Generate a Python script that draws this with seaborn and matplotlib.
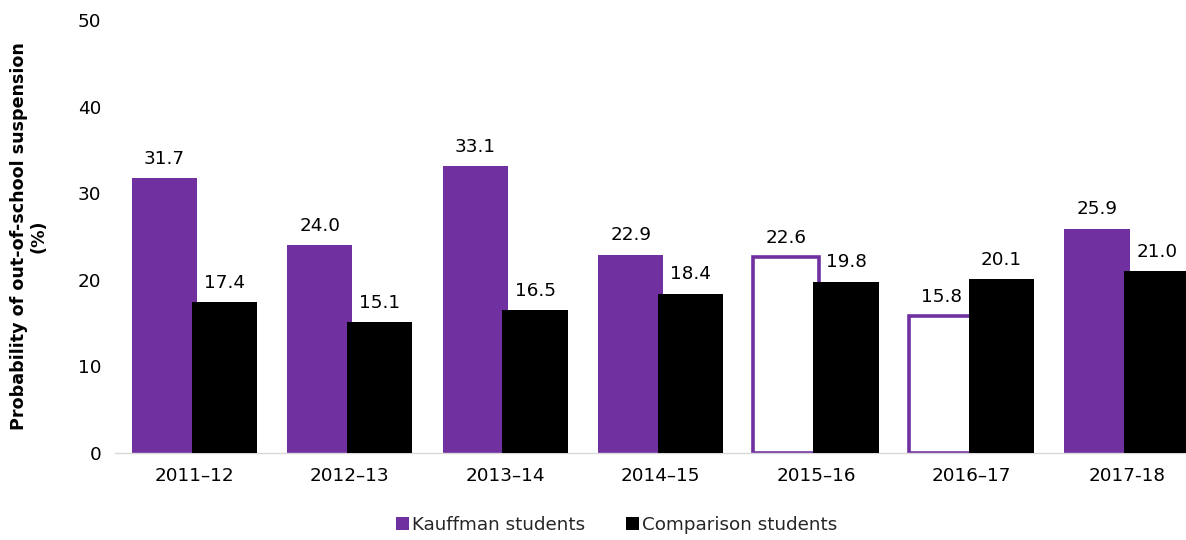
import matplotlib
matplotlib.use("Agg")
import matplotlib.pyplot as plt
import seaborn as sns
import pandas as pd
from matplotlib.patches import Patch

years = ["2011–12", "2012–13", "2013–14", "2014–15", "2015–16", "2016–17", "2017-18"]
kauffman = [31.7, 24.0, 33.1, 22.9, 22.6, 15.8, 25.9]
comparison = [17.4, 15.1, 16.5, 18.4, 19.8, 20.1, 21.0]
hollow_years = ["2015–16", "2016–17"]

groups = ["Kauffman students", "Comparison students"]
purple = "#7030A0"
colors = [purple, "#000000"]

df = pd.DataFrame({
    "year": years * 2,
    "value": kauffman + comparison,
    "group": [groups[0]] * len(years) + [groups[1]] * len(years),
})

sns.set_style("white")
plt.rcParams["font.family"] = ["DejaVu Sans"]
fs = 13.2

fig = plt.figure(figsize=(11.86, 5.4), dpi=100)
ax = fig.add_axes([0.097, 0.161, 0.903, 0.802])

sns.barplot(data=df, x="year", y="value", hue="group", palette=colors,
            hue_order=groups, order=years, ax=ax, width=0.8, legend=False,
            saturation=1, errorbar=None)

# overlap the two bars of a year like the original
bw = 0.42
shift = 0.385
bars = ax.patches[:2 * len(years)]
for i, p in enumerate(bars):
    g = i // len(years)
    k = i % len(years)
    cx = k + (-shift / 2 if g == 0 else shift / 2)
    p.set_x(cx - bw / 2)
    p.set_width(bw)
    p.set_linewidth(0)
    p.set_zorder(2 + g)
    if g == 0 and years[k] in hollow_years:
        p.set_facecolor("white")
        p.set_edgecolor(purple)
        p.set_linewidth(2.6)
        p.set_joinstyle("miter")
    vals = kauffman if g == 0 else comparison
    ax.text(cx, vals[k] + 1.2, f"{vals[k]:.1f}", ha="center", va="bottom",
            fontsize=fs, color="black", zorder=5)

ax.set_ylim(0, 50)
ax.set_yticks(range(0, 51, 10))
ax.set_xlim(-0.51, 6.38)
ax.tick_params(axis="both", labelsize=fs, length=0, pad=10, labelcolor="black")
ax.set_xlabel("")
ax.set_ylabel("Probability of out-of-school suspension\n(%)", fontsize=12.6,
              fontweight="bold", color="black", linespacing=1.1)
ax.yaxis.set_label_coords(-0.063, 0.5)
for s in ["top", "right", "left"]:
    ax.spines[s].set_visible(False)
ax.spines["bottom"].set_color("#d9d9d9")
ax.spines["bottom"].set_linewidth(1)

handles = [Patch(facecolor=c, edgecolor="none") for c in colors]
fig.legend(handles, groups, loc="center", bbox_to_anchor=(0.52, 0.028), ncol=2,
           frameon=False, fontsize=fs, handlelength=0.7, handleheight=0.7,
           handletextpad=0.2, columnspacing=2.2)

fig.savefig("out.png", dpi=100)
